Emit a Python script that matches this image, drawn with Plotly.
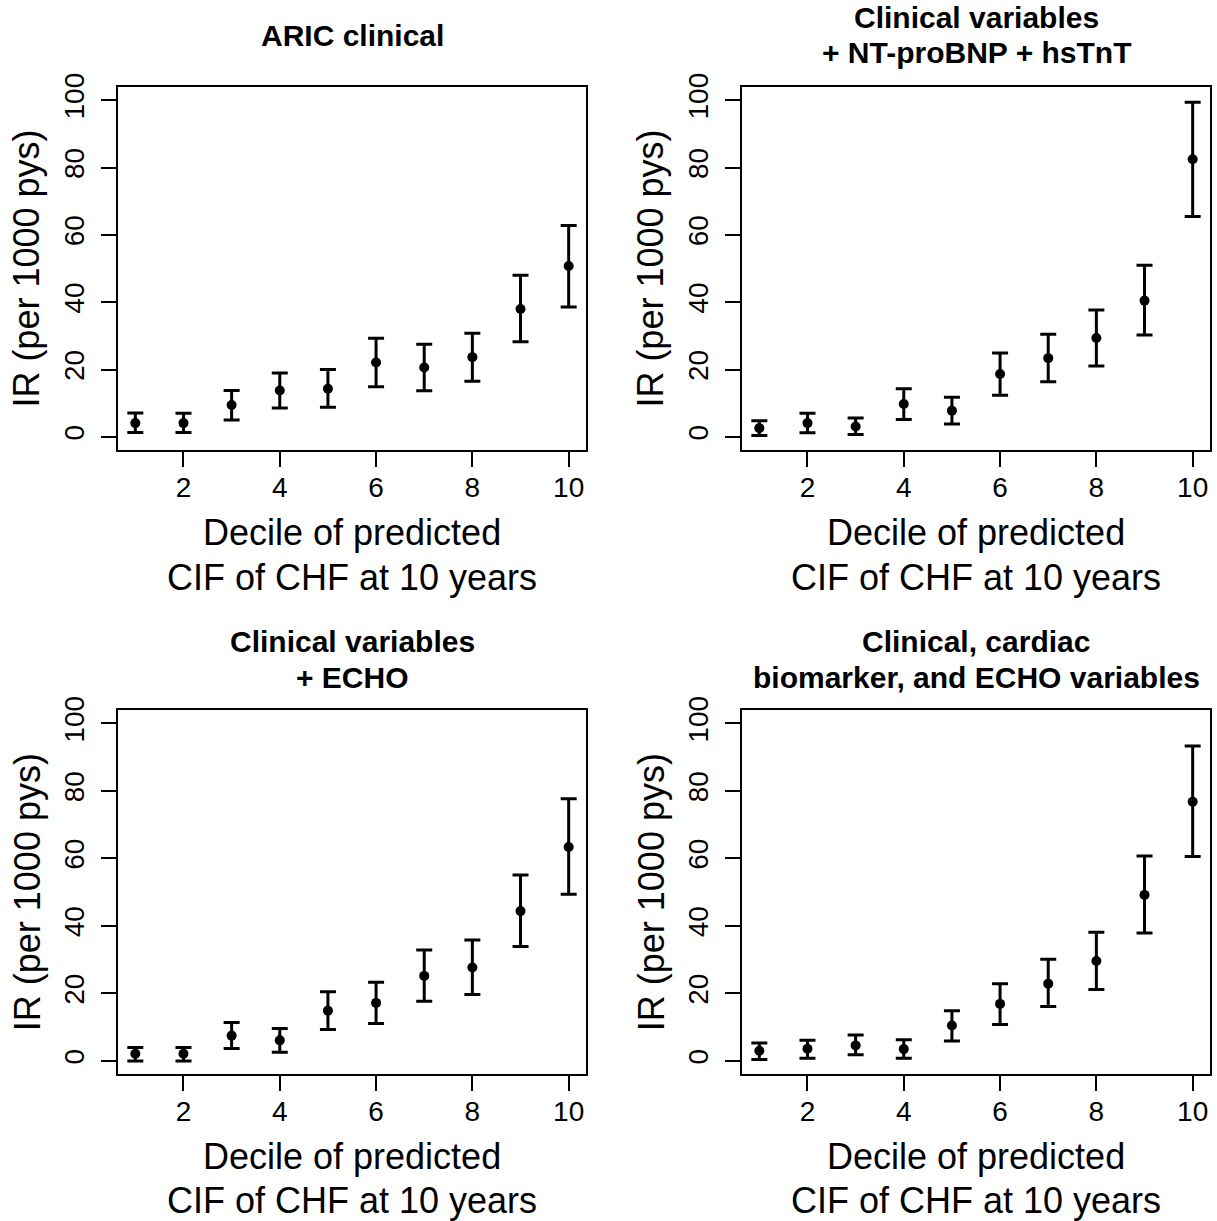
import plotly.graph_objects as go

W, H = 1217, 1221

deciles = [1, 2, 3, 4, 5, 6, 7, 8, 9, 10]

titles = [
    ["ARIC clinical"],
    ["Clinical variables", "+ NT-proBNP + hsTnT"],
    ["Clinical variables", "+ ECHO"],
    ["Clinical, cardiac", "biomarker, and ECHO variables"],
]

# Panel 1: ARIC clinical
ir_1 = [4.1, 4.1, 9.5, 13.8, 14.3, 22.1, 20.6, 23.7, 38.0, 50.8]
lo_1 = [1.3, 1.3, 5.0, 8.6, 8.8, 14.9, 13.7, 16.5, 28.3, 38.6]
hi_1 = [7.1, 7.0, 13.8, 19.0, 20.0, 29.3, 27.5, 30.8, 48.0, 62.8]

# Panel 2: + NT-proBNP + hsTnT
ir_2 = [2.6, 4.1, 3.1, 9.8, 7.8, 18.7, 23.4, 29.4, 40.5, 82.5]
lo_2 = [0.4, 1.2, 0.7, 5.2, 3.8, 12.4, 16.4, 21.1, 30.3, 65.5]
hi_2 = [4.8, 7.0, 5.6, 14.3, 11.8, 24.9, 30.5, 37.7, 51.0, 99.4]

# Panel 3: + ECHO
ir_3 = [2.1, 2.1, 7.5, 6.1, 14.9, 17.2, 25.2, 27.7, 44.4, 63.4]
lo_3 = [0.0, 0.0, 3.7, 2.6, 9.3, 11.1, 17.7, 19.7, 33.9, 49.4]
hi_3 = [4.0, 4.0, 11.4, 9.6, 20.5, 23.3, 32.9, 35.8, 55.1, 77.7]

# Panel 4: Clinical, cardiac biomarker, and ECHO
ir_4 = [3.0, 3.6, 4.6, 3.5, 10.5, 16.9, 22.9, 29.6, 49.2, 76.8]
lo_4 = [0.4, 0.8, 1.8, 0.8, 5.9, 10.8, 16.1, 21.2, 37.9, 60.6]
hi_4 = [5.3, 6.1, 7.7, 6.3, 14.9, 22.9, 30.1, 38.1, 60.7, 93.3]

x_ticks = [2, 4, 6, 8, 10]
y_ticks = [0, 20, 40, 60, 80, 100]
x_title = ["Decile of predicted", "CIF of CHF at 10 years"]
y_title = "IR (per 1000 pys)"

panels = [(ir_1, lo_1, hi_1), (ir_2, lo_2, hi_2), (ir_3, lo_3, hi_3), (ir_4, lo_4, hi_4)]

FONT = "Liberation Sans, Arial, sans-serif"

# pixel boxes: (left, right, top, bottom)
boxes = [(118, 586, 85, 449), (742, 1210, 85, 449),
         (118, 586, 709, 1074), (742, 1210, 709, 1074)]
title_y = [[34], [16, 51], [640, 676], [640, 676]]
xtitle_y = [[531, 576], [531, 576], [1156, 1200], [1156, 1200]]


def px(x):
    return x / W


def py(y):
    y = (y - 12) / 0.99
    return 1 - y / H


fig = go.Figure()
annotations = []
for i, ((ir, lo, hi), (l, r, t, b)) in enumerate(zip(panels, boxes)):
    n = "" if i == 0 else str(i + 1)
    fig.add_trace(go.Scatter(
        x=deciles, y=ir, mode="markers",
        marker=dict(color="black", size=10),
        error_y=dict(type="data", symmetric=False,
                     array=[h - v for h, v in zip(hi, ir)],
                     arrayminus=[v - m for v, m in zip(ir, lo)],
                     color="black", thickness=3, width=8),
        xaxis="x" + n, yaxis="y" + n, showlegend=False,
    ))
    common = dict(showline=True, mirror=True, linecolor="black", linewidth=1.5,
                  ticks="outside", ticklen=15, tickwidth=1.5, tickcolor="black",
                  showgrid=False, zeroline=False,
                  tickfont=dict(family=FONT, size=28, color="black"))
    fig.layout["xaxis" + n] = dict(domain=[px(l), px(r)], range=[0.64, 10.36],
                                   tickvals=x_ticks, anchor="y" + n,
                                   ticklabelstandoff=-4, **common)
    fig.layout["yaxis" + n] = dict(domain=[py(b), py(t)], range=[-4, 104],
                                   tickvals=y_ticks, anchor="x" + n, tickangle=-90,
                                   ticklabelstandoff=6, **common)
    cx = (l + r) / 2
    for txt, yy in zip(titles[i], title_y[i]):
        annotations.append(dict(text="<b>" + txt + "</b>", x=px(cx), y=py(yy),
                                xref="paper", yref="paper", showarrow=False,
                                xanchor="center", yanchor="middle",
                                font=dict(family=FONT, size=30, color="black")))
    for txt, yy in zip(x_title, xtitle_y[i]):
        annotations.append(dict(text=txt, x=px(cx), y=py(yy),
                                xref="paper", yref="paper", showarrow=False,
                                xanchor="center", yanchor="middle",
                                font=dict(family=FONT, size=36, color="black")))
    annotations.append(dict(text=y_title, x=px(l - 91), y=py((t + b) / 2),
                            xref="paper", yref="paper", showarrow=False,
                            textangle=-90, xanchor="center", yanchor="middle",
                            font=dict(family=FONT, size=36, color="black")))

fig.update_layout(width=W, height=H, margin=dict(l=0, r=0, t=0, b=0),
                  plot_bgcolor="white", paper_bgcolor="white",
                  annotations=annotations)

fig.write_html("out.html", config={"displayModeBar": False},
               post_script="document.body.style.margin='0';")
